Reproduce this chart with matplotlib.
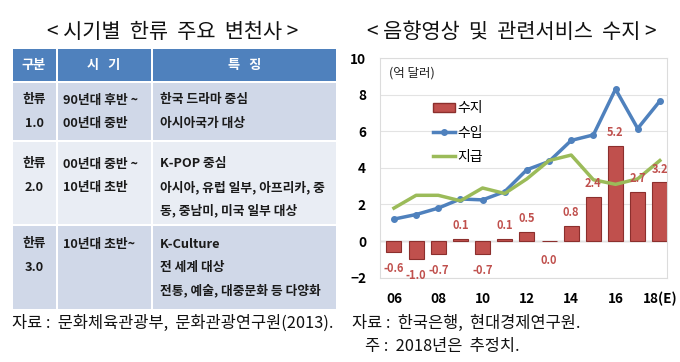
import matplotlib.pyplot as plt
from matplotlib.patches import Rectangle, Patch
from matplotlib.lines import Line2D

plt.rcParams['font.family'] = ['Noto Sans CJK KR', 'DejaVu Sans']

# 표 데이터
table_title = '< 시기별  한류  주요  변천사 >'
header = ['구분', '시   기', '특   징']
col_gubun = [['한류', '1.0'], ['한류', '2.0'], ['한류', '3.0']]
col_period = [['90년대 후반 ~', '00년대 중반'],
              ['00년대 중반 ~', '10년대 초반'],
              ['10년대 초반~']]
col_feature = [['한국 드라마 중심', '아시아국가 대상'],
               ['K-POP 중심', '아시아, 유럽 일부, 아프리카, 중', '동, 중남미, 미국 일부 대상'],
               ['K-Culture', '전 세계 대상', '전통, 예술, 대중문화 등 다양화']]
table_source = '자료 :  문화체육관광부,  문화관광연구원(2013).'

# 차트 데이터
chart_title = '< 음향영상  및  관련서비스  수지 >'
years = ['06', '07', '08', '09', '10', '11', '12', '13', '14', '15', '16', '17', '18(E)']
balance = [-0.6, -1.0, -0.7, 0.1, -0.7, 0.1, 0.5, 0.0, 0.8, 2.4, 5.2, 2.7, 3.2]
receipts = [1.2, 1.45, 1.8, 2.3, 2.25, 2.7, 3.9, 4.35, 5.5, 5.8, 8.3, 6.15, 7.65]
payments = [1.8, 2.5, 2.5, 2.2, 2.9, 2.6, 3.4, 4.4, 4.7, 3.35, 3.1, 3.4, 4.4]
chart_source = ['자료 :  한국은행,  현대경제연구원.', '주 :  2018년은  추정치.']

fig = plt.figure(figsize=(6.8, 3.62), dpi=100)

# ---- 왼쪽 표 (픽셀 좌표) ----
tb = fig.add_axes([0, 0, 1, 1])
tb.set_xlim(0, 680)
tb.set_ylim(362, 0)
tb.axis('off')

tb.text(173, 32, table_title, ha='center', va='center', fontsize=15, color='#111111')

cols_x = [12, 57, 152, 337]
row_y = [(49, 81), (83, 140), (142, 224), (226, 309)]
fills = ['#4f81bd', '#d0d8e8', '#e9edf4', '#d0d8e8']
for r, (y0, y1) in enumerate(row_y):
    for c in range(3):
        x0, x1 = cols_x[c], cols_x[c + 1]
        tb.add_patch(Rectangle((x0 + 1, y0), x1 - x0 - 2, y1 - y0,
                               facecolor=fills[r], edgecolor='none'))

head_cx = [34, 104, 245]
for hx, h in zip(head_cx, header):
    tb.text(hx, 65, h, ha='center', va='center', fontsize=9.5,
            color='white', fontweight='bold')

first_line = [100, 164, 244]
step = 23.5
txt_kw = dict(va='center', fontsize=9.2, color='#1a1a1a', fontweight='bold')
for i in range(3):
    y = first_line[i]
    for j, t in enumerate(col_gubun[i]):
        tb.text(34, y + j * step, t, ha='center', **txt_kw)
    for j, t in enumerate(col_period[i]):
        tb.text(63, y + j * step, t, ha='left', **txt_kw)
    for j, t in enumerate(col_feature[i]):
        tb.text(160, y + j * step, t, ha='left', **txt_kw)

tb.text(12, 323, table_source, ha='left', va='center', fontsize=11.8, color='#111111')

# ---- 오른쪽 차트 ----
tb.text(512, 32, chart_title, ha='center', va='center', fontsize=15, color='#111111')
tb.text(352, 323, chart_source[0], ha='left', va='center', fontsize=11.8, color='#111111')
tb.text(365, 346, chart_source[1], ha='left', va='center', fontsize=11.8, color='#111111')

ax = fig.add_axes([0.5588, 0.233, 0.422, 0.6066])
x = list(range(len(years)))

ax.bar(x, balance, width=0.68, color='#c0504d', edgecolor='#8c2f2d',
       linewidth=0.8, zorder=2)
ax.plot(x, receipts, color='#4f81bd', linewidth=2.5, marker='o',
        markersize=4, zorder=3)
ax.plot(x, payments, color='#9bbb59', linewidth=2.5, zorder=3)

for xi, v in zip(x, balance):
    if v > 0:
        ax.annotate(f'{v:.1f}', (xi, v), xytext=(0, 5), textcoords='offset points',
                    ha='center', va='bottom', fontsize=8, color='#c0504d',
                    fontweight='bold', zorder=4)
    else:
        ax.annotate(f'{v:.1f}', (xi, v), xytext=(0, -7 if v < 0 else -9),
                    textcoords='offset points', ha='center', va='top',
                    fontsize=8, color='#c0504d', fontweight='bold', zorder=4)

ax.set_xlim(-0.63, 12.32)
ax.set_ylim(-2, 10)
ax.set_yticks([-2, 0, 2, 4, 6, 8, 10])
ax.set_xticks(x[::2])
ax.set_xticklabels(years[::2])
ax.tick_params(length=0, labelsize=9.8, pad=10)
for lab in ax.get_xticklabels() + ax.get_yticklabels():
    lab.set_fontweight('bold')
ax.grid(axis='y', color='#e3e3e3', linewidth=0.8, zorder=0)
ax.axhline(0, color='#bfbfbf', linewidth=1, zorder=1)
for s in ax.spines.values():
    s.set_color('#dcdcdc')
    s.set_linewidth(0.8)

ax.text(0.03, 0.93, '(억 달러)', transform=ax.transAxes, fontsize=9,
        ha='left', va='center', color='#222222')

handles = [Patch(facecolor='#c0504d', edgecolor='#8c2f2d'),
           Line2D([], [], color='#4f81bd', linewidth=2.5, marker='o', markersize=4),
           Line2D([], [], color='#9bbb59', linewidth=2.5)]
ax.legend(handles, ['수지', '수입', '지급'], loc='upper left',
          bbox_to_anchor=(0.14, 0.86), frameon=False, fontsize=10,
          handlelength=1.6, handletextpad=0.2, labelspacing=0.75)

fig.savefig('out.png', dpi=100)
